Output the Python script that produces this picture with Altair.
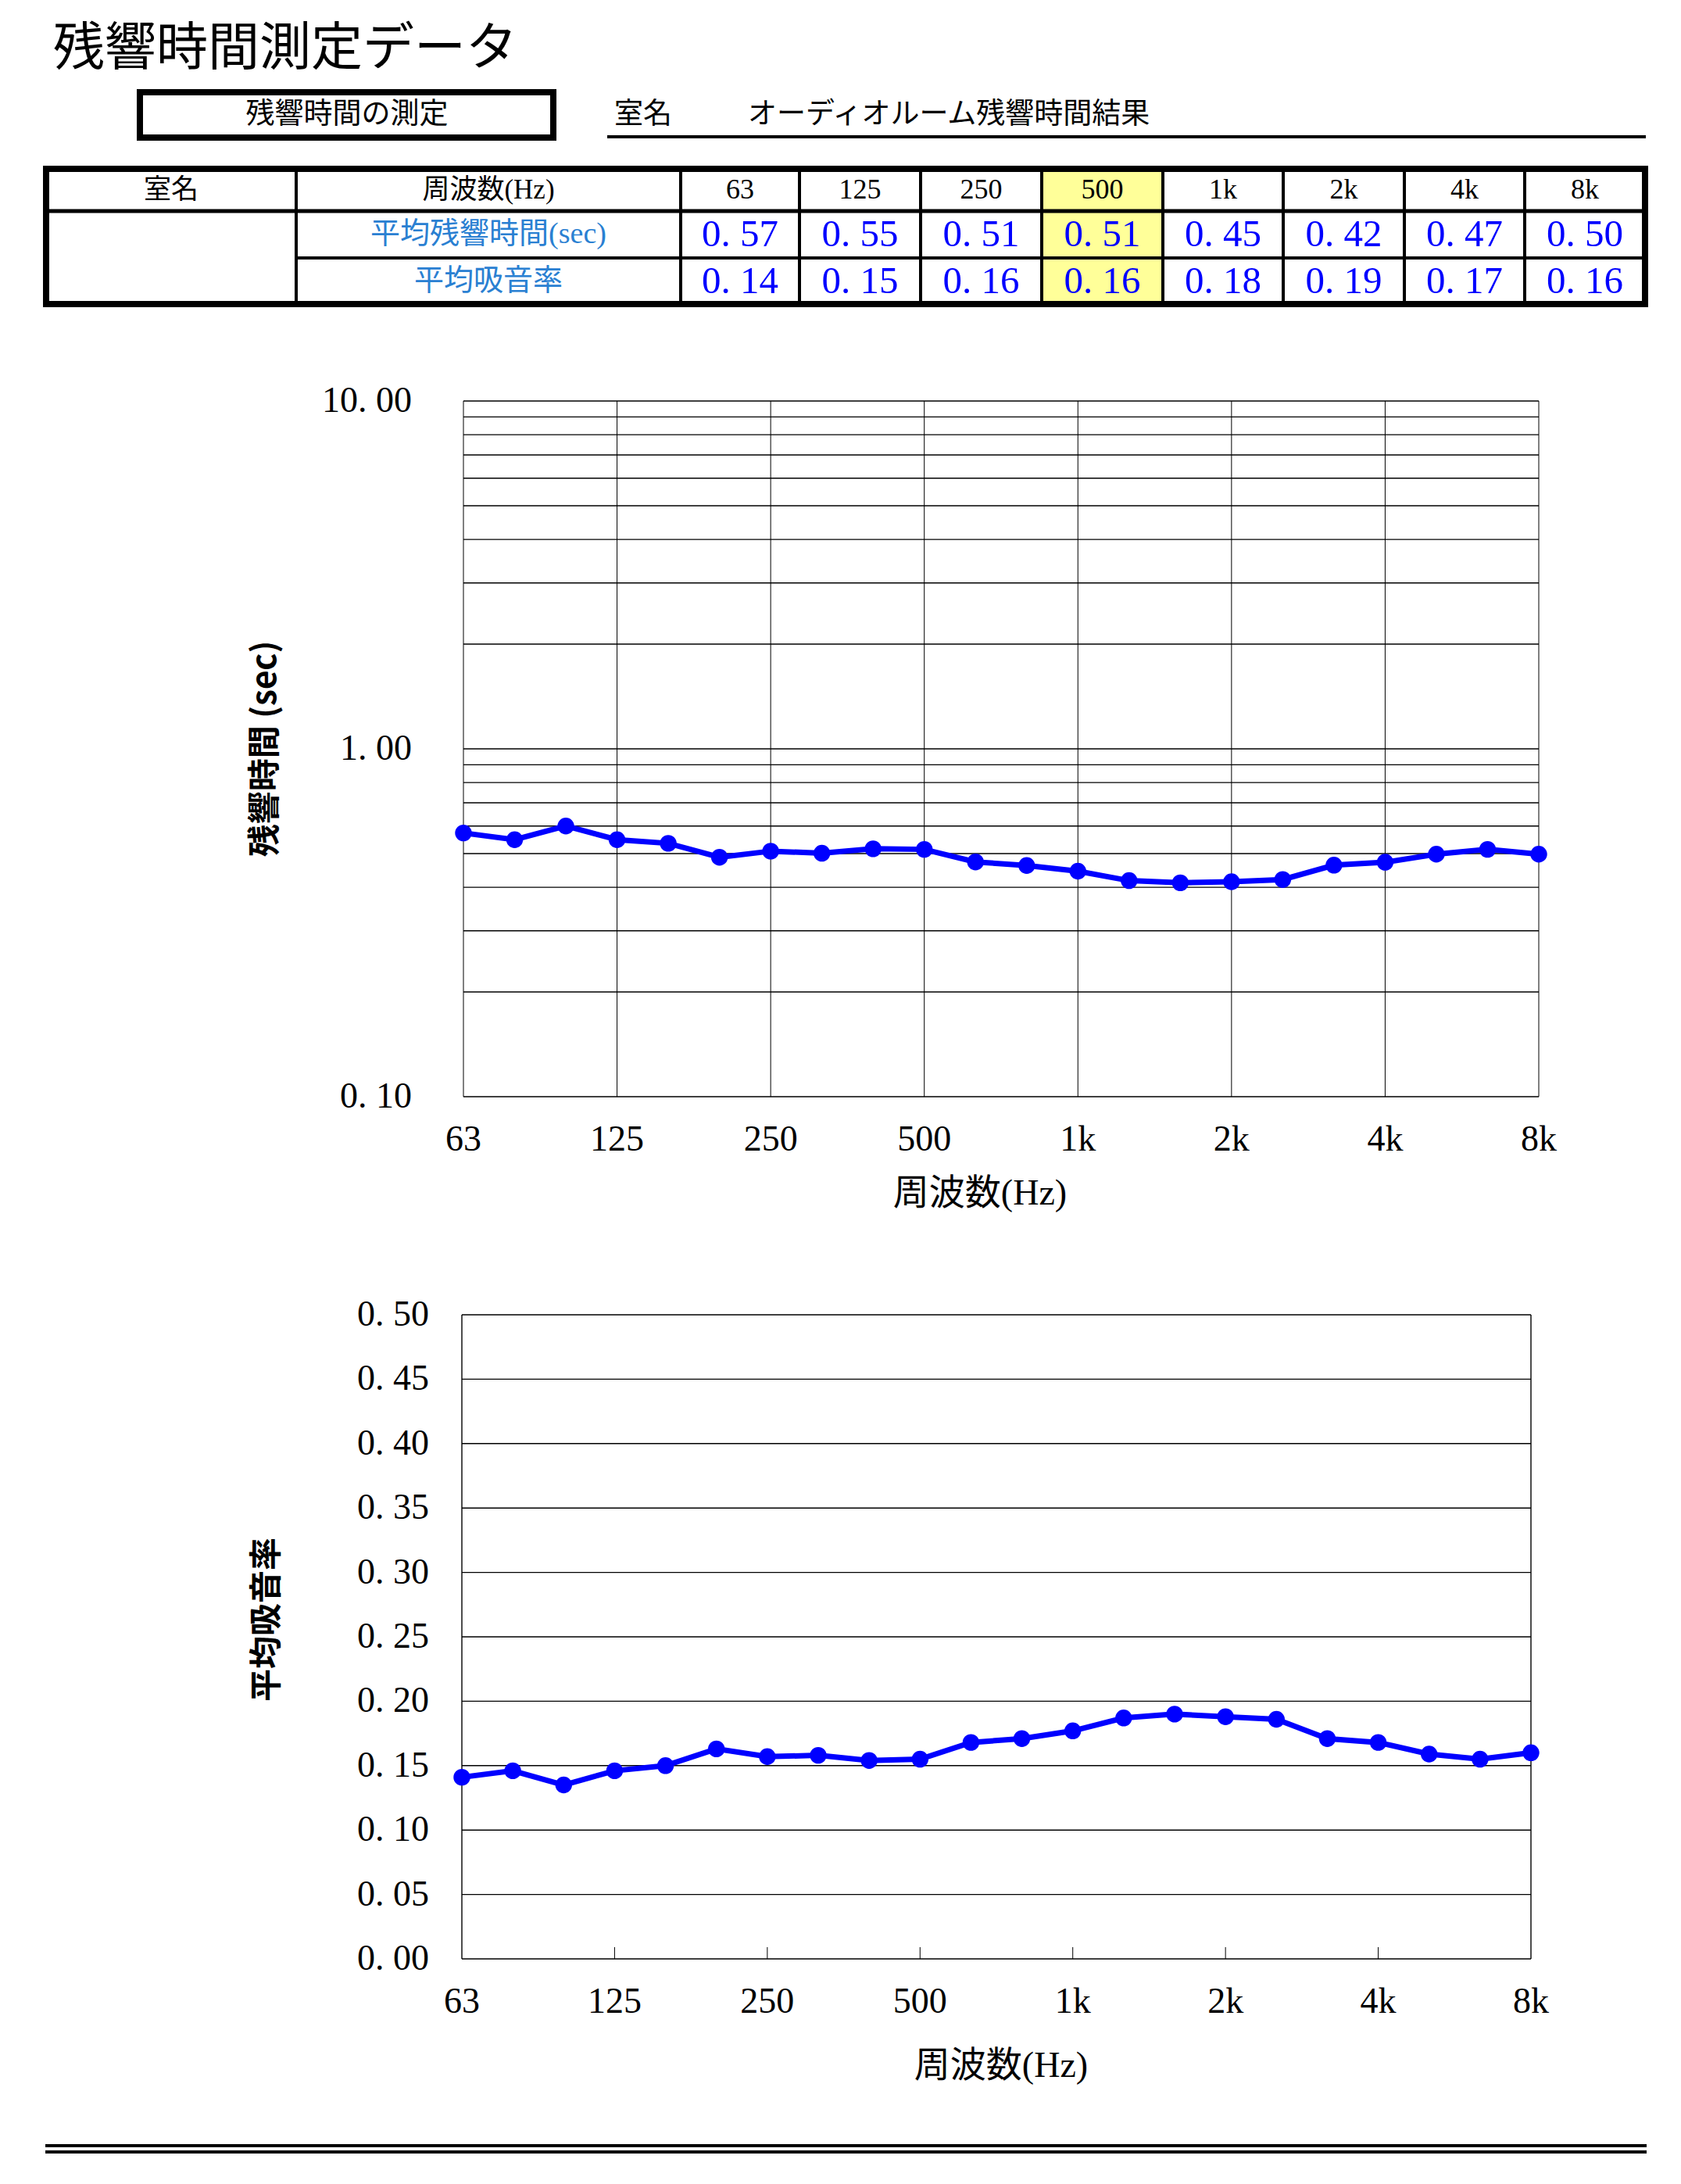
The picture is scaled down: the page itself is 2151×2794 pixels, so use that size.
import altair as alt
import pandas as pd

W, H = 2151, 2794
SERIF = "'Liberation Serif', 'Noto Sans CJK JP'"
SANS = "'Noto Sans CJK JP'"
BLUE = "#0000FF"
LBLUE = "#2A80D2"

# ---------------- data ----------------
title_text = "残響時間測定データ"
box_text = "残響時間の測定"
room_label = "室名"
room_name = "オーディオルーム残響時間結果"
table_head = ["室名", "周波数(Hz)"]
row_labels = ["平均残響時間(sec)", "平均吸音率"]

octave_labels = ["63", "125", "250", "500", "1k", "2k", "4k", "8k"]
table_rt = [0.57, 0.55, 0.51, 0.51, 0.45, 0.42, 0.47, 0.50]
table_alpha = [0.14, 0.15, 0.16, 0.16, 0.18, 0.19, 0.17, 0.16]
highlight_band = "500"

freq_labels = ["63", "80", "100", "125", "160", "200", "250", "315", "400", "500", "630",
               "800", "1k", "1.25k", "1.6k", "2k", "2.5k", "3.15k", "4k", "5k", "6.3k", "8k"]
rt_values = [0.573, 0.548, 0.600, 0.548, 0.535, 0.488, 0.508, 0.501, 0.516, 0.514, 0.473,
             0.462, 0.445, 0.418, 0.412, 0.415, 0.421, 0.463, 0.472, 0.498, 0.514, 0.498]
alpha_values = [0.141, 0.146, 0.135, 0.146, 0.150, 0.163, 0.157, 0.158, 0.154, 0.155, 0.168,
                0.171, 0.177, 0.187, 0.190, 0.188, 0.186, 0.171, 0.168, 0.159, 0.155, 0.160]

rt_grid = [0.1, 0.2, 0.3, 0.4, 0.5, 0.6, 0.7, 0.8, 0.9,
           1, 2, 3, 4, 5, 6, 7, 8, 9, 10]
rt_tick_labels = [0.1, 1, 10]
alpha_grid = [0.0, 0.05, 0.10, 0.15, 0.20, 0.25, 0.30, 0.35, 0.40, 0.45, 0.50]

x_title = "周波数(Hz)"
y1_title = "残響時間 (sec)"
y2_title = "平均吸音率"

# ---------------- layout (pixels) ----------------
col_edges = [59, 379, 871, 1023, 1178, 1333, 1488, 1642, 1797, 1951, 2105]
tbl_top, tbl_mid1, tbl_mid2, tbl_bot = 216, 270, 330, 389
P1 = dict(x0=593, x1=1969, y0=1403, y1=513)
P2 = dict(x0=591, x1=1959, y0=2506, y1=1682)


def fmt(v):
    return f"{v:.2f}".replace(".", ". ")


def text_layer(rows, size, align="center", color="black", font=SERIF, weight="normal", angle=0):
    df = pd.DataFrame(rows, columns=["x", "y", "text"])
    mk = dict(fontSize=size, align=align, baseline="middle", color=color, font=font,
              fontWeight=weight)
    if angle:
        mk["angle"] = angle
    return alt.Chart(df).mark_text(**mk).encode(
        x=alt.X("x:Q", scale=None), y=alt.Y("y:Q", scale=None), text="text:N")


def rect_layer(rows, color="black"):
    df = pd.DataFrame(rows, columns=["x", "x2", "y", "y2"])
    return alt.Chart(df).mark_rect(color=color, opacity=1).encode(
        x=alt.X("x:Q", scale=None), x2="x2:Q", y=alt.Y("y:Q", scale=None), y2="y2:Q")


def frame(x1, y1, x2, y2, t):
    h = t / 2
    return [(x1 - h, x2 + h, y1 - h, y1 + h), (x1 - h, x2 + h, y2 - h, y2 + h),
            (x1 - h, x1 + h, y1 - h, y2 + h), (x2 - h, x2 + h, y1 - h, y2 + h)]


# ---------------- header ----------------
centers = [(col_edges[i] + col_edges[i + 1]) / 2 for i in range(len(col_edges) - 1)]
fcent = centers[2:]
hi = octave_labels.index(highlight_band)
yh, yr1, yr2 = (tbl_top + tbl_mid1) / 2, (tbl_mid1 + tbl_mid2) / 2, (tbl_mid2 + tbl_bot) / 2

lines = []
lines += frame(179, 118, 708, 176, 8)                     # title box
lines += [(777, 2106, 173, 177)]                          # room underline
lines += frame(col_edges[0], tbl_top, col_edges[-1], tbl_bot, 8)
lines += [(col_edges[0], col_edges[-1], tbl_mid1 - 2.5, tbl_mid1 + 2.5)]
lines += [(col_edges[1], col_edges[-1], tbl_mid2 - 2, tbl_mid2 + 2)]
lines += [(e - 2, e + 2, tbl_top, tbl_bot) for e in col_edges[1:-1]]
lines += [(58, 2107, 2743, 2747), (58, 2107, 2751, 2755)]  # footer double line

header = alt.layer(
    rect_layer([(col_edges[hi + 2], col_edges[hi + 3], tbl_top, tbl_bot)], color="#FFFF99"),
    rect_layer(lines),
    text_layer([(68, 63, title_text)], 66, align="left", font=SANS),
    text_layer([(444, 147, box_text)], 37, font=SERIF),
    text_layer([(786, 147, room_label), (957, 147, room_name)], 37, align="left"),
    text_layer([(centers[0], yh, table_head[0]), (centers[1], yh, table_head[1])], 35),
    text_layer([(c, yh, f) for c, f in zip(fcent, octave_labels)], 36),
    text_layer([(centers[1], yr1, row_labels[0]), (centers[1], yr2, row_labels[1])], 38,
               color=LBLUE),
    text_layer([(c, yr1, fmt(v)) for c, v in zip(fcent, table_rt)]
               + [(c, yr2, fmt(v)) for c, v in zip(fcent, table_alpha)], 49, color=BLUE),
)

# ---------------- charts ----------------
n = len(freq_labels)
oct_idx = [freq_labels.index(f) for f in octave_labels]


def make_chart(P, values, yscale, grid_vals, label_vals, label_right, full_vgrid,
               xtitle_pos, ytitle_pos, ytitle):
    xs = alt.Scale(domain=[0, n - 1], range=[P["x0"], P["x1"]], nice=False, zero=False)
    X = lambda f: alt.X(f, scale=xs, axis=None)
    Y = lambda f: alt.Y(f, scale=yscale, axis=None)

    df = pd.DataFrame({"i": list(range(n)), "freq": freq_labels, "v": values})
    hg = pd.DataFrame({"v": grid_vals, "a": 0, "b": n - 1})
    lo, hi_ = yscale.domain[0], yscale.domain[1]
    layers = [
        alt.Chart(hg).mark_rule(color="black", strokeWidth=1.4).encode(
            x=X("a:Q"), x2="b:Q", y=Y("v:Q")),
    ]
    if full_vgrid:
        vg = pd.DataFrame({"i": oct_idx, "lo": lo, "hi": hi_})
        layers.append(alt.Chart(vg).mark_rule(color="black", strokeWidth=1).encode(
            x=X("i:Q"), y=Y("lo:Q"), y2="hi:Q"))
    else:
        vg = pd.DataFrame({"i": [0, n - 1], "lo": lo, "hi": hi_})
        layers.append(alt.Chart(vg).mark_rule(color="black", strokeWidth=1.4).encode(
            x=X("i:Q"), y=Y("lo:Q"), y2="hi:Q"))
        tk = pd.DataFrame({"i": oct_idx[1:-1], "lo": lo})
        layers.append(alt.Chart(tk).mark_rule(color="black", strokeWidth=1).encode(
            x=X("i:Q"), y=Y("lo:Q"), y2=alt.value(P["y0"] - 15)))
    layers += [
        alt.Chart(df).mark_line(color=BLUE, strokeWidth=7).encode(x=X("i:Q"), y=Y("v:Q")),
        alt.Chart(df).mark_circle(color=BLUE, size=460, opacity=1).encode(
            x=X("i:Q"), y=Y("v:Q")),
        alt.Chart(pd.DataFrame({"v": label_vals, "t": [fmt(v) for v in label_vals]}))
        .mark_text(align="right", baseline="middle", fontSize=46, font=SERIF, color="black")
        .encode(x=alt.value(label_right), y=Y("v:Q"), text="t:N"),
        alt.Chart(pd.DataFrame({"i": oct_idx, "t": octave_labels}))
        .mark_text(align="center", baseline="middle", fontSize=46, font=SERIF, color="black")
        .encode(x=X("i:Q"), y=alt.value(P["y0"] + 55), text="t:N"),
        alt.Chart(pd.DataFrame({"t": [x_title]}))
        .mark_text(align="center", baseline="middle", fontSize=46, font=SERIF, color="black")
        .encode(x=alt.value(xtitle_pos[0]), y=alt.value(xtitle_pos[1]), text="t:N"),
        alt.Chart(pd.DataFrame({"t": [ytitle]}))
        .mark_text(align="center", baseline="middle", fontSize=42, font=SANS,
                   fontWeight="bold", color="black", angle=270)
        .encode(x=alt.value(ytitle_pos[0]), y=alt.value(ytitle_pos[1]), text="t:N"),
    ]
    return alt.layer(*layers)


ys1 = alt.Scale(type="log", domain=[0.1, 10], range=[P1["y0"], P1["y1"]], nice=False)
ys2 = alt.Scale(type="linear", domain=[0, 0.5], range=[P2["y0"], P2["y1"]], nice=False,
                zero=False)

chart1 = make_chart(P1, rt_values, ys1, rt_grid, rt_tick_labels, 527, True,
                    (1254, 1527), (340, 958), y1_title)
chart2 = make_chart(P2, alpha_values, ys2, alpha_grid, alpha_grid, 549, False,
                    (1281, 2643), (342, 2072), y2_title)

chart = alt.layer(header, chart1, chart2).resolve_scale(
    x="independent", y="independent"
).properties(
    width=W, height=H, padding=0, background="white",
    autosize=alt.AutoSizeParams(type="none"),
).configure_view(stroke=None)

chart.save("out.html", embed_options={"renderer": "svg", "actions": False})
